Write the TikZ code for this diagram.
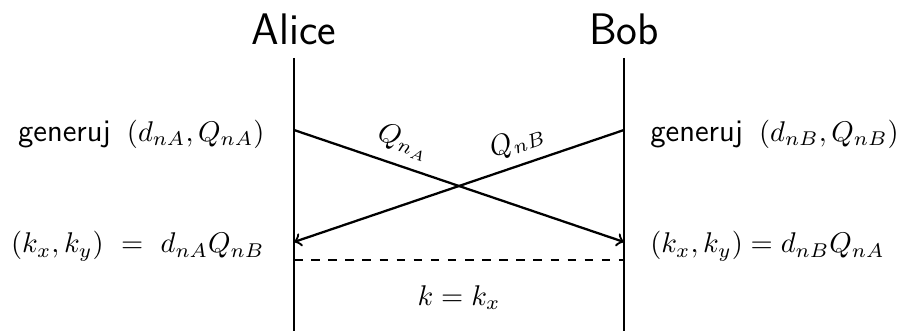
\documentclass[tikz,border=0pt]{standalone}
\usetikzlibrary{positioning}

\begin{document}
\begin{tikzpicture}[
    >=to,
    actor/.style={font=\fontsize{15.5}{18}\selectfont\sffamily, anchor=base},
    lifeline/.style={draw, thick},
    msg/.style={draw, ->, thick},
    share/.style={draw, dashed, thick},
    gen/.style={font=\fontsize{11}{13}\selectfont\sffamily}
]
    \useasboundingbox (0,0) rectangle (11.085,-4.081);

    % Lifelines
    \coordinate (atop) at (3.625,-0.715);
    \coordinate (abot) at (3.625,-4.081);
    \coordinate (btop) at (7.694,-0.715);
    \coordinate (bbot) at (7.694,-4.081);

    \node [actor] (alice) at (3.625,-0.543) {Alice};
    \node [actor] (bob) at (7.694,-0.543) {Bob};

    % Points on the lifelines
    \coordinate (asend) at (3.625,-1.603);
    \coordinate (arecv) at (3.625,-2.984);
    \coordinate (bsend) at (7.694,-1.603);
    \coordinate (brecv) at (7.694,-2.984);
    \coordinate (ashare) at (3.625,-3.206);
    \coordinate (bshare) at (7.694,-3.206);

    % Nodes
    \node [gen, left=0.24cm of asend, yshift=-1.5pt] (agen) {generuj\hspace{0.2cm}\normalsize$(d_{nA},Q_{nA})$};
    \node [gen, right=0.2cm of bsend, yshift=-1.5pt] (bgen) {generuj\hspace{0.2cm}\normalsize$(d_{nB},Q_{nB})$};

    \node [left=0.24cm of arecv, yshift=-1.5pt] (akey) {$(k_x,k_y)\ =\ d_{nA}Q_{nB}$};
    \node [right=0.2cm of brecv, yshift=-1.5pt] (bkey) {$(k_x,k_y) = d_{nB}Q_{nA}$};

    \node (kval) at (5.66,-3.674) {$k = k_x$};

    % Connections
    \path [lifeline] (atop) -- (abot);
    \path [lifeline] (btop) -- (bbot);

    \path [msg] (asend) -- node [above, sloped, pos=0.31] (qa) {$Q_{n_A}$} (brecv);
    \path [msg] (bsend) -- node [above, sloped, pos=0.30] (qb) {$Q_{nB}$} (arecv);

    \path [share] (ashare) -- (bshare);

\end{tikzpicture}
\end{document}
